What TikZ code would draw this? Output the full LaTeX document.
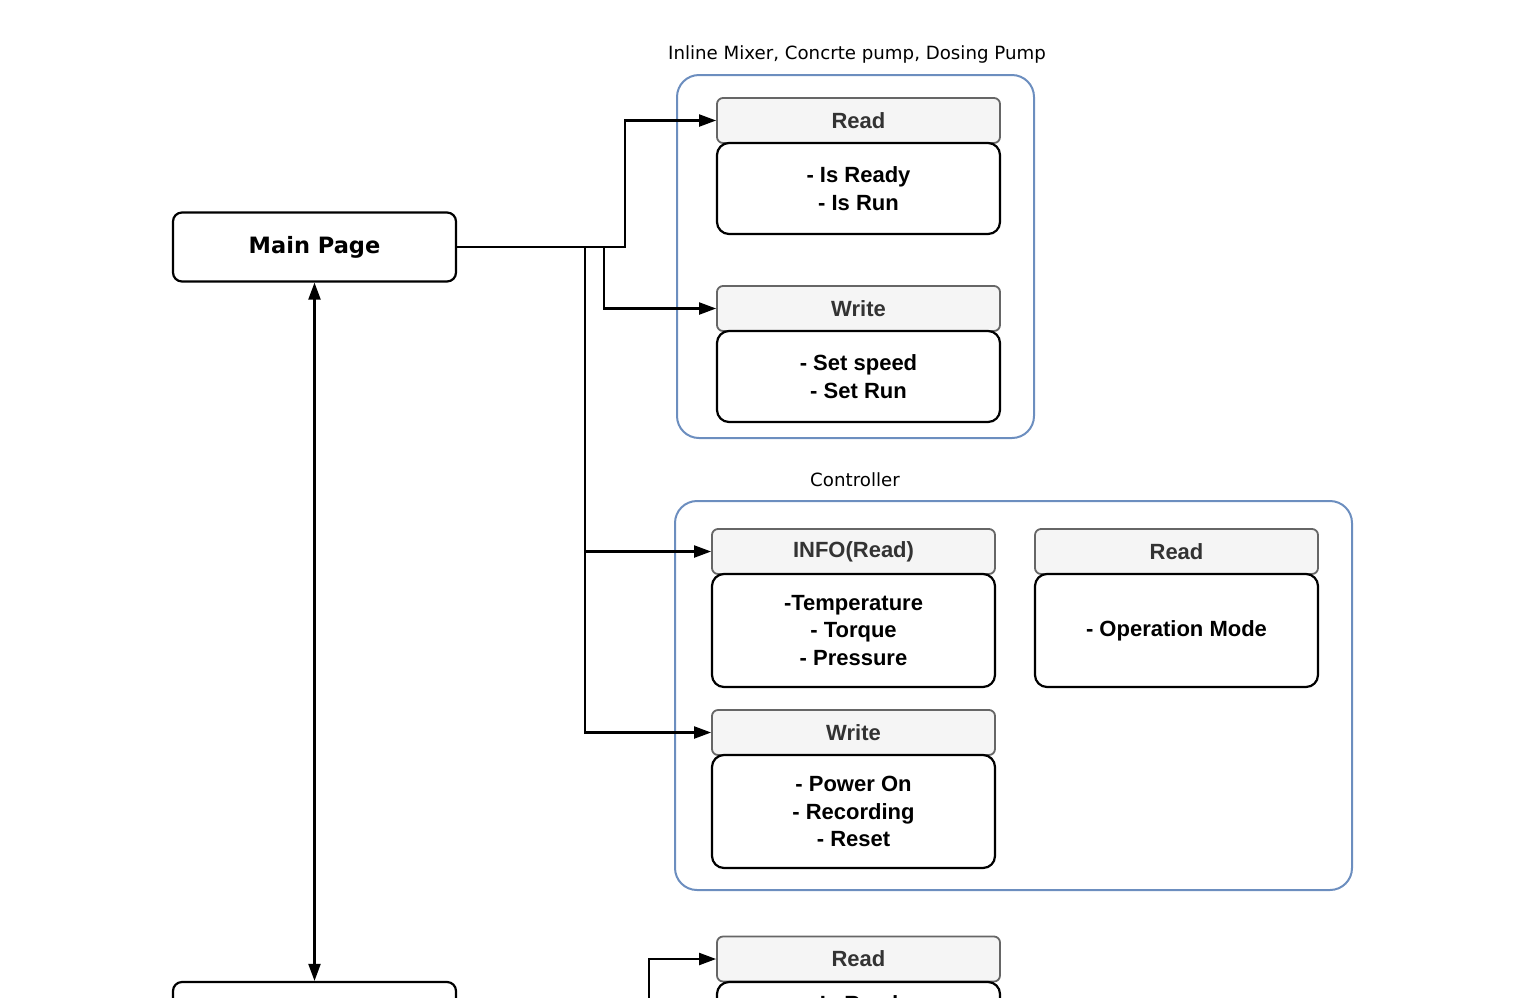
\documentclass[tikz,border=0pt]{standalone}
\usepackage{fontspec}
\setmainfont{Liberation Sans}
\newfontfamily\verd{DejaVu Sans}
\usetikzlibrary{arrows.meta}
\definecolor{hdrfill}{HTML}{F5F5F5}
\definecolor{hdrline}{HTML}{666666}
\definecolor{hdrtext}{HTML}{333333}
\definecolor{grpline}{HTML}{6C8EBF}
\tikzset{
  hdr/.style={rectangle, rounded corners=6pt, fill=hdrfill, draw=hdrline, line width=1.8pt,
    minimum width=283pt, minimum height=45pt, inner sep=0pt, text=hdrtext,
    font=\fontsize{22}{27.5}\selectfont\bfseries},
  body/.style={rectangle, rounded corners=12pt, fill=white, draw=black, line width=2.2pt,
    minimum width=283pt, inner sep=0pt, align=center,
    font=\fontsize{22}{27.5}\selectfont\bfseries},
  page/.style={rectangle, rounded corners=9pt, fill=white, draw=black, line width=2.2pt,
    minimum width=283pt, minimum height=69pt, inner sep=0pt,
    font=\verd\fontsize{22.5}{27}\selectfont\bfseries},
  group/.style={rectangle, rounded corners=22pt, draw=grpline, line width=2pt, inner sep=0pt},
  grplabel/.style={font=\verd\fontsize{18.2}{22}\selectfont, inner sep=0pt},
  conn/.style={line width=2.1pt, -{Triangle[length=17pt,width=12pt]}},
  conn2/.style={line width=2.1pt, {Triangle[length=17pt,width=12pt]}-{Triangle[length=17pt,width=12pt]}},
}
\begin{document}
\begin{tikzpicture}[x=1pt,y=-1pt]
\useasboundingbox (0,0) rectangle (1517,997);
\clip (0,0) rectangle (1517,997);

% upper group: pumps and mixer
\node[group, minimum width=357pt, minimum height=363pt] (g1) at (855.5,256.5) {};
\node[grplabel] (g1l) at (857,54) {Inline Mixer, Concrte pump, Dosing Pump};
\node[hdr] (h1) at (858.5,120.5) {Read};
\node[body, minimum height=91pt] (b1) at (858.5,188.5) {- Is Ready\\- Is Run};
\node[hdr] (h2) at (858.5,308.5) {Write};
\node[body, minimum height=91pt] (b2) at (858.5,376.5) {- Set speed\\- Set Run};

% controller group
\node[group, minimum width=677pt, minimum height=389pt] (g2) at (1013.5,695.5) {};
\node[grplabel] (g2l) at (855,480) {Controller};
\node[hdr] (h3) at (853.5,551.5) {INFO(Read)};
\node[body, minimum height=113pt] (b3) at (853.5,630.5) {-Temperature\\- Torque\\- Pressure};
\node[hdr] (h4) at (1176.5,551.5) {Read};
\node[body, minimum height=113pt] (b4) at (1176.5,630.5) {- Operation Mode};
\node[hdr] (h5) at (853.5,732.5) {Write};
\node[body, minimum height=113pt] (b5) at (853.5,811.5) {- Power On\\- Recording\\- Reset};

% lower row
\node[hdr] (h6) at (858.5,959) {Read};
\node[body, minimum height=70pt] (b6) at (858.5,1017) {- Is Ready\\- Is Run};

% pages
\node[page] (main) at (314.5,247) {Main Page};
\node[page, minimum height=72pt] (next) at (314.5,1018) {};

% connectors
\coordinate (tail) at (649,1010);
\draw[conn] (main.east) -| ([xshift=-91pt]h1.west) -- (h1.west);
\draw[conn] ([xshift=147pt]main.east) |- (h2.west);
\draw[conn] ([xshift=128pt]main.east) |- (h3.west);
\draw[conn] ([xshift=128pt]main.east) |- (h5.west);
\draw[conn2] (main.south) -- (next.north);
\draw[conn] (tail) |- (h6.west);
\end{tikzpicture}
\end{document}
